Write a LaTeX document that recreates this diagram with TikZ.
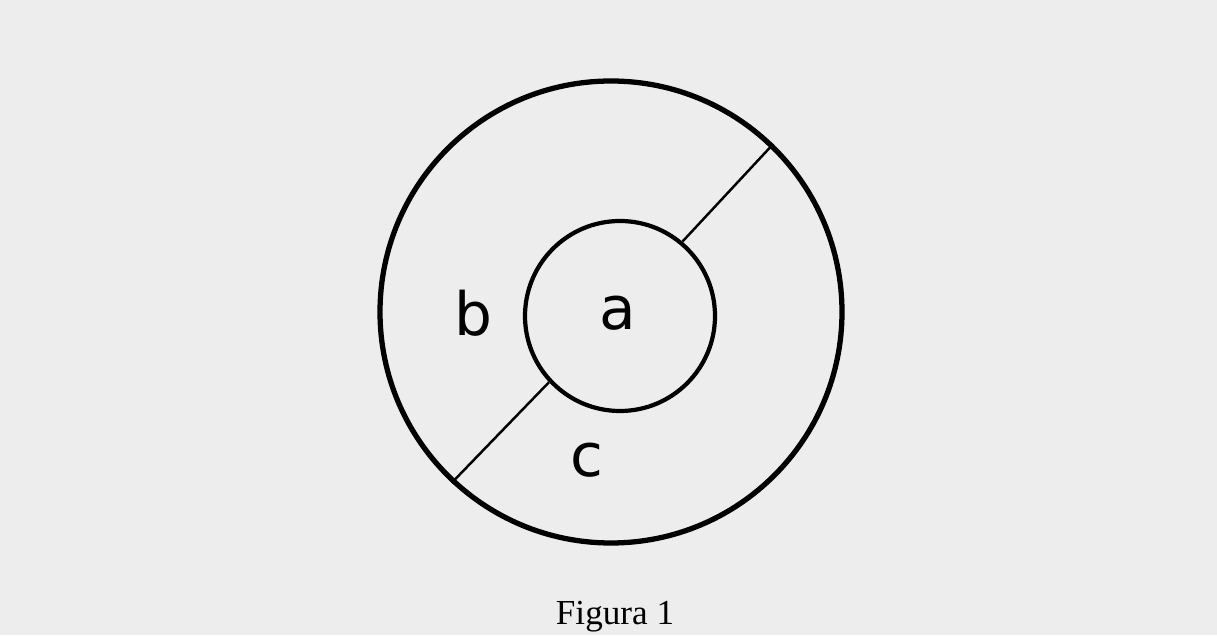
\documentclass[tikz,border=0pt]{standalone}
\usepackage{fontspec}
\setmainfont{Liberation Serif}
\setsansfont{DejaVu Sans}
\usetikzlibrary{calc}

\tikzset{
  ring/.style={circle, draw, inner sep=0pt},
  letter/.style={font=\sffamily\fontsize{34}{36}\selectfont}
}

\begin{document}
\begin{tikzpicture}[scale=1.0]
\useasboundingbox[fill=black!7] (0,0) rectangle (24.34,12.70);
\node[ring, line width=3pt, minimum size=9.24cm] (outer) at (12.22,6.46) {};
\node[ring, line width=2.4pt, minimum size=3.80cm] (inner) at (12.40,6.38) {};
\draw[line width=1.4pt] (inner.50) -- (outer.46);
\draw[line width=1.4pt] (inner.223) -- (outer.227);
\node[letter] (a) at (12.36,6.44) {a};
\node[letter] (b) at (9.46,6.44) {b};
\node[letter] (c) at (11.74,3.50) {c};
\node[font=\fontsize{20}{22}\selectfont, anchor=base] (cap) at (12.30,0.22) {Figura 1};
\end{tikzpicture}
\end{document}
